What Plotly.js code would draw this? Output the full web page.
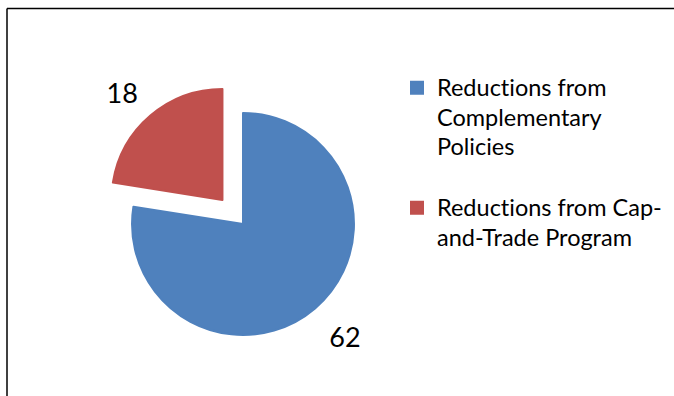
<!DOCTYPE html>
<html>
<head>
<meta charset="utf-8">
<script src="https://cdn.plot.ly/plotly-3.0.1.min.js"></script>
<style>
  html, body { margin: 0; padding: 0; background: #ffffff; }
  #chart { width: 674px; height: 396px; }
  #chart text { font-variant-ligatures: none; font-feature-settings: "liga" 0, "clig" 0; }
</style>
</head>
<body>
<div id="chart"></div>
<script>
// ---- data ----
const categories = [
  "Reductions from<br>Complementary<br>Policies<br>\u00a0",
  "Reductions from Cap-<br>and-Trade Program"
];
const values = [62, 18];
const sliceColors = ["#4F81BD", "#C0504D"];
const pulls = [0, 0.285];
const labelTemplates = [
  "\u00a0<br><span style='font-size:27px'>%{value}</span>",
  "<span style='font-size:27px'>%{value}</span><br>\u00a0"
];

const W = 674, H = 396;

// wrap each legend line so glyph size is independent of line spacing
const legendLabels = categories.map(c =>
  c.split("<br>").map(l => "<span style='font-size:23.5px'>" + l + "</span>").join("<br>")
);

const trace = {
  type: "pie",
  labels: legendLabels,
  values: values,
  sort: false,
  direction: "clockwise",
  rotation: 0,
  pull: pulls,
  marker: { colors: sliceColors, line: { color: sliceColors, width: 2 } },
  textposition: "outside",
  texttemplate: labelTemplates,
  textfont: { family: "Lato, 'Open Sans', sans-serif", size: [22, 15.5], color: "#000000" },
  hoverinfo: "none",
  domain: { x: [0.14896, 0.57211], y: [0.07424, 0.79444] }
};

const layout = {
  width: W,
  height: H,
  margin: { l: 0, r: 0, t: 0, b: 0, autoexpand: false },
  paper_bgcolor: "#ffffff",
  plot_bgcolor: "#ffffff",
  showlegend: true,
  legend: {
    x: 397 / W,
    y: 1 - 66.5 / H,
    xanchor: "left",
    yanchor: "top",
    valign: "top",
    bgcolor: "rgba(0,0,0,0)",
    font: { family: "Lato, 'Open Sans', sans-serif", size: 22.5, color: "#000000" }
  },
  shapes: [
    { type: "line", xref: "paper", yref: "paper", x0: 7 / W, x1: 7 / W, y0: 0, y1: 1 - 8.5 / H,
      line: { color: "#000000", width: 1.5 } },
    { type: "line", xref: "paper", yref: "paper", x0: 7 / W, x1: 1, y0: 1 - 8.5 / H, y1: 1 - 8.5 / H,
      line: { color: "#000000", width: 1.5 } }
  ]
};

Plotly.newPlot("chart", [trace], layout, { staticPlot: true, displayModeBar: false });
</script>
</body>
</html>
